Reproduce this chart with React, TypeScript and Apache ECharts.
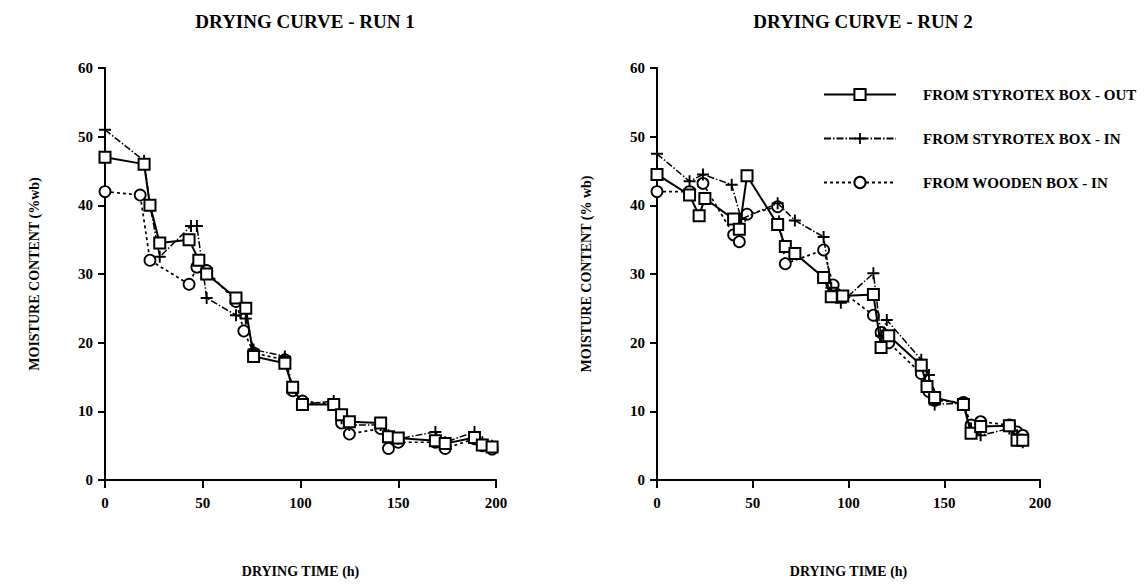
import React, { useEffect, useRef } from "react";
import * as echarts from "echarts";

const SERIES_NAMES = ["FROM STYROTEX BOX - OUT", "FROM STYROTEX BOX - IN", "FROM WOODEN BOX - IN"];

// Run 1
const run1OutHours = [0, 20, 23, 28, 43, 48, 52, 67, 72, 76, 92, 96, 101, 117, 121, 125, 141, 145, 150, 169, 174, 189, 193, 198];
const run1OutMc = [47, 46, 40, 34.5, 35, 32, 30, 26.5, 25, 18, 17, 13.5, 11, 11, 9.5, 8.5, 8.3, 6.3, 6.1, 5.7, 5.3, 6.2, 5.1, 4.8];
const run1InHours = [0, 20, 23, 28, 44, 47, 52, 67, 72, 76, 92, 96, 101, 117, 121, 125, 141, 145, 150, 169, 174, 189, 193, 198];
const run1InMc = [51, 46.5, 40, 32.5, 37, 37, 26.5, 24, 23.5, 19, 18, 13.5, 11, 11.5, 9, 8, 8, 6.5, 6, 7, 5.5, 7, 5.5, 5];
const run1WoodHours = [0, 18, 23, 43, 47, 52, 67, 71, 76, 92, 96, 101, 117, 121, 125, 141, 145, 150, 169, 174, 189, 193, 198];
const run1WoodMc = [42, 41.5, 32, 28.5, 31, 30.5, 26, 21.7, 18.5, 17.5, 13, 11.5, 11, 8.3, 6.7, 7.5, 4.6, 5.5, 5.5, 4.6, 6, 5, 4.5];

// Run 2
const run2OutHours = [0, 17, 22, 25, 40, 43, 47, 63, 67, 72, 87, 91, 97, 113, 117, 121, 138, 141, 145, 160, 164, 169, 184, 188, 191];
const run2OutMc = [44.5, 41.5, 38.5, 41, 38, 36.5, 44.3, 37.2, 34, 33, 29.5, 26.7, 26.8, 27, 19.3, 21, 16.7, 13.6, 12, 11, 6.8, 7.8, 7.9, 5.8, 5.8];
const run2InHours = [0, 17, 24, 39, 44, 63, 72, 87, 91, 96, 113, 117, 120, 138, 142, 145, 160, 164, 169, 184, 188, 191];
const run2InMc = [47.5, 43.5, 44.5, 43, 38, 40.3, 37.8, 35.4, 28, 25.8, 30.1, 21, 23.3, 17.5, 15.3, 11, 11.2, 7.5, 6.5, 7.5, 6.5, 5.5];
const run2WoodHours = [0, 17, 24, 40, 43, 47, 63, 67, 87, 92, 113, 117, 121, 138, 142, 145, 160, 164, 169, 184, 188, 191];
const run2WoodMc = [42, 42, 43.2, 35.7, 34.7, 38.7, 39.8, 31.5, 33.5, 28.4, 24, 21.5, 20, 15.5, 12.9, 11.6, 11.3, 8, 8.5, 8, 7, 6.5];

const xTicks = [0, 50, 100, 150, 200];
const yTicks = [0, 10, 20, 30, 40, 50, 60];

const zip = (h: number[], v: number[]) => h.map((x, i) => [x, v[i]]);

const FONT = "'Liberation Serif', 'DejaVu Serif', serif";
const CROSS = "path://M4.2,0 H5.8 V4.2 H10 V5.8 H5.8 V10 H4.2 V5.8 H0 V4.2 H4.2 Z";

function makeSeries(idx: number, out: number[][], inn: number[][], wood: number[][]) {
  return [
    {
      name: SERIES_NAMES[2],
      type: "line",
      xAxisIndex: idx,
      yAxisIndex: idx,
      data: wood,
      symbol: "circle",
      symbolSize: 11,
      itemStyle: { color: "#fff", borderColor: "#000", borderWidth: 1.8 },
      lineStyle: { color: "#000", width: 1.7, type: [3, 3] },
      z: 2,
    },
    {
      name: SERIES_NAMES[1],
      type: "line",
      xAxisIndex: idx,
      yAxisIndex: idx,
      data: inn,
      symbol: CROSS,
      symbolSize: 12,
      itemStyle: { color: "#000" },
      lineStyle: { color: "#000", width: 1.5, type: [7, 2, 1.5, 2] },
      z: 3,
    },
    {
      name: SERIES_NAMES[0],
      type: "line",
      xAxisIndex: idx,
      yAxisIndex: idx,
      data: out,
      symbol: "rect",
      symbolSize: 11,
      itemStyle: { color: "#fff", borderColor: "#000", borderWidth: 2 },
      lineStyle: { color: "#000", width: 2 },
      z: 4,
    },
  ];
}

function xAxis(idx: number) {
  return {
    type: "value",
    gridIndex: idx,
    min: xTicks[0],
    max: xTicks[xTicks.length - 1],
    interval: 50,
    name: "DRYING TIME (h)",
    nameLocation: "middle",
    nameGap: 84,
    nameTextStyle: { fontFamily: FONT, fontSize: 14, color: "#000", fontWeight: "bold" },
    axisLine: { show: true, lineStyle: { color: "#000", width: 2 } },
    axisTick: { show: true, inside: false, length: 8, lineStyle: { color: "#000", width: 2 } },
    axisLabel: { color: "#000", fontFamily: FONT, fontSize: 15, fontWeight: "bold", margin: 15 },
    splitLine: { show: false },
  };
}

function yAxis(idx: number, name: string, gap: number) {
  return {
    type: "value",
    gridIndex: idx,
    min: yTicks[0],
    max: yTicks[yTicks.length - 1],
    interval: 10,
    name,
    nameLocation: "middle",
    nameGap: gap,
    nameTextStyle: { fontFamily: FONT, fontSize: 14, color: "#000", fontWeight: "bold" },
    axisLine: { show: true, lineStyle: { color: "#000", width: 2 } },
    axisTick: { show: true, inside: false, length: 7, lineStyle: { color: "#000", width: 2 } },
    axisLabel: { color: "#000", fontFamily: FONT, fontSize: 15, fontWeight: "bold", margin: 12 },
    splitLine: { show: false },
  };
}

export default function App() {
  const ref = useRef<HTMLDivElement>(null);
  useEffect(() => {
    if (!ref.current) return;
    const chart = echarts.init(ref.current, undefined, { renderer: "svg" });
    chart.setOption({
      animation: false,
      backgroundColor: "#fff",
      title: [
        {
          text: "DRYING CURVE - RUN 1",
          left: 300,
          top: 7,
          textAlign: "center",
          textStyle: { fontFamily: FONT, fontSize: 19, fontWeight: "bold", color: "#000" },
        },
        {
          text: "DRYING CURVE - RUN 2",
          left: 858,
          top: 7,
          textAlign: "center",
          textStyle: { fontFamily: FONT, fontSize: 19, fontWeight: "bold", color: "#000" },
        },
      ],
      legend: {
        orient: "vertical",
        left: 818,
        top: 82,
        itemWidth: 72,
        itemHeight: 14,
        itemGap: 29,
        selectedMode: false,
        textStyle: {
          fontFamily: FONT,
          fontSize: 15,
          lineHeight: 15,
          fontWeight: "bold",
          color: "#000",
          padding: [0, 0, 0, 22],
        },
        data: SERIES_NAMES,
      },
      grid: [
        { left: 105, top: 68, width: 391, height: 412 },
        { left: 657, top: 68, width: 383, height: 412 },
      ],
      xAxis: [xAxis(0), xAxis(1)],
      yAxis: [yAxis(0, "MOISTURE CONTENT (%wb)", 64), yAxis(1, "MOISTURE CONTENT (% wb)", 64)],
      series: [
        ...makeSeries(0, zip(run1OutHours, run1OutMc), zip(run1InHours, run1InMc), zip(run1WoodHours, run1WoodMc)),
        ...makeSeries(1, zip(run2OutHours, run2OutMc), zip(run2InHours, run2InMc), zip(run2WoodHours, run2WoodMc)),
      ],
    });
    return () => chart.dispose();
  }, []);
  return <div ref={ref} style={{ position: "fixed", left: 0, top: 0, width: 1145, height: 587 }} />;
}
